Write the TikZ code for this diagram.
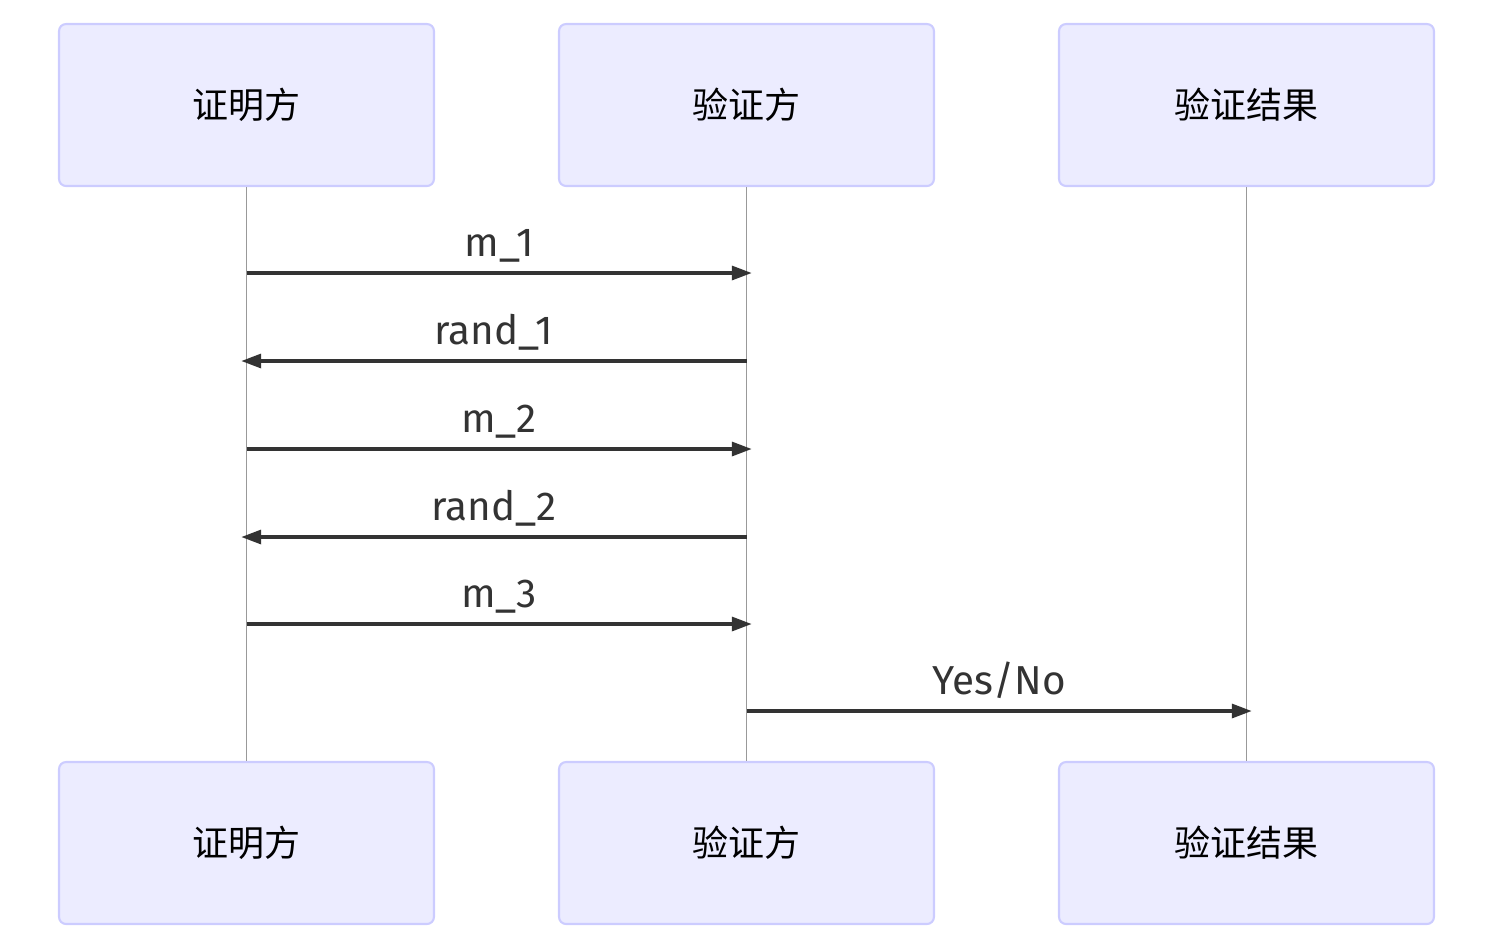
\documentclass[tikz,border=0pt]{standalone}
\usepackage{fontspec}
\setmainfont{Fira Sans}
\newfontfamily\cjk{Noto Sans CJK SC}
\usetikzlibrary{arrows.meta}
\definecolor{actorfill}{HTML}{ECECFF}
\definecolor{actorline}{HTML}{CCCCFF}
\definecolor{msgline}{HTML}{333333}
\definecolor{lifeline}{HTML}{999999}
\tikzset{
  actor/.style={draw=actorline,fill=actorfill,line width=1.2pt,rounded corners=4pt,
    minimum width=7.5cm,minimum height=3.24cm,font=\cjk\fontsize{20.5}{24}\selectfont},
  msg/.style={draw=msgline,line width=1.9pt,-{Triangle[length=0.4cm,width=0.28cm]}},
  lbl/.style={font=\fontsize{23}{26}\selectfont,text=msgline,anchor=base,inner sep=0pt,yshift=0.34cm}
}
\begin{document}
\begin{tikzpicture}[x=0.02cm,y=-0.02cm]
   \useasboundingbox (0,0) rectangle (1491,941);
   \node[actor] (tp) at (246.5,105) {证明方};
   \node[actor] (tv) at (746.5,105) {验证方};
   \node[actor] (tr) at (1246.5,105) {验证结果};
   \node[actor] (bp) at (246.5,843) {证明方};
   \node[actor] (bv) at (746.5,843) {验证方};
   \node[actor] (br) at (1246.5,843) {验证结果};
   \draw [lifeline,line width=0.7pt] (tp) -- (bp);
   \draw [lifeline,line width=0.7pt] (tv) -- (bv);
   \draw [lifeline,line width=0.7pt] (tr) -- (br);
   \draw [msg] (tp |- 0,273) -- node[lbl] {m\_1} ([xshift=3]tv |- 0,273);
   \draw [msg] (tv |- 0,361) -- node[lbl] {rand\_1} ([xshift=-3]tp |- 0,361);
   \draw [msg] (tp |- 0,449) -- node[lbl] {m\_2} ([xshift=3]tv |- 0,449);
   \draw [msg] (tv |- 0,537) -- node[lbl] {rand\_2} ([xshift=-3]tp |- 0,537);
   \draw [msg] (tp |- 0,624) -- node[lbl] {m\_3} ([xshift=3]tv |- 0,624);
   \draw [msg] (tv |- 0,711) -- node[lbl] {Yes/No} ([xshift=3]tr |- 0,711);
\end{tikzpicture}
\end{document}
